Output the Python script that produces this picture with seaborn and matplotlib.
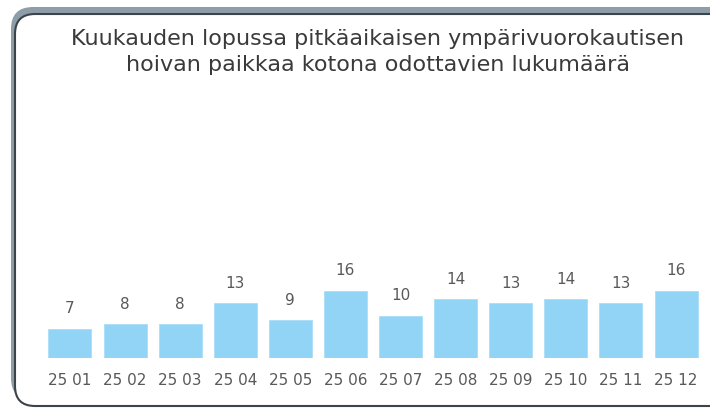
import matplotlib
matplotlib.use("Agg")
import matplotlib.pyplot as plt
import seaborn as sns
import pandas as pd
from matplotlib.patches import FancyBboxPatch
from matplotlib.transforms import IdentityTransform

months = ["25 01", "25 02", "25 03", "25 04", "25 05", "25 06",
          "25 07", "25 08", "25 09", "25 10", "25 11", "25 12"]
values = [7, 8, 8, 13, 9, 16, 10, 14, 13, 14, 13, 16]
title = "Kuukauden lopussa pitkäaikaisen ympärivuorokautisen\nhoivan paikkaa kotona odottavien lukumäärä"

sns.set_theme(style="white")
plt.rcParams['font.family'] = ['DejaVu Sans']

W, H = 710, 409
fig = plt.figure(figsize=(W / 100, H / 100), dpi=100)
fig.patch.set_facecolor("white")

# frame: grey shadow band on top/left, then white rounded panel with dark edge
shadow = FancyBboxPatch((11, H - 400), 800, 393, boxstyle="round,pad=0,rounding_size=22",
                        transform=IdentityTransform(), facecolor="#8d9ea9",
                        edgecolor="none", zorder=0)
panel = FancyBboxPatch((15, H - 406), 800, 392, boxstyle="round,pad=0,rounding_size=20",
                       transform=IdentityTransform(), facecolor="white",
                       edgecolor="#3c4449", linewidth=1.5, zorder=1)
fig.add_artist(shadow)
fig.add_artist(panel)

# axes placement in pixels
x0, x1 = 42.4, 703.6
yb, yt = 358, 190
ax = fig.add_axes([x0 / W, (H - yb) / H, (x1 - x0) / W, (yb - yt) / H])
ax.set_zorder(2)
ax.patch.set_alpha(0)

df = pd.DataFrame({"month": months, "value": values})
sns.barplot(data=df, x="month", y="value", color="#92d4f5", saturation=1,
            width=0.78, ax=ax, edgecolor="#a9def8", linewidth=0.6)
ax.set_ylim(0, 40)
ax.set_xlim(-0.5, len(months) - 0.5)
for i, v in enumerate(values):
    ax.annotate(str(v), (i, v), xytext=(0, 9), textcoords="offset points",
                ha="center", va="bottom", fontsize=11, color="#595959")
ax.set_xlabel("")
ax.set_ylabel("")
ax.set_yticks([])
ax.tick_params(axis="x", length=0, pad=11, labelsize=11, labelcolor="#595959")
for s in ax.spines.values():
    s.set_visible(False)

fig.text(378 / W, (H - 52) / H, title, ha="center", va="center", fontsize=16,
         color="#3a3a3a", linespacing=1.42, zorder=3)

fig.savefig("out.png", dpi=100)
